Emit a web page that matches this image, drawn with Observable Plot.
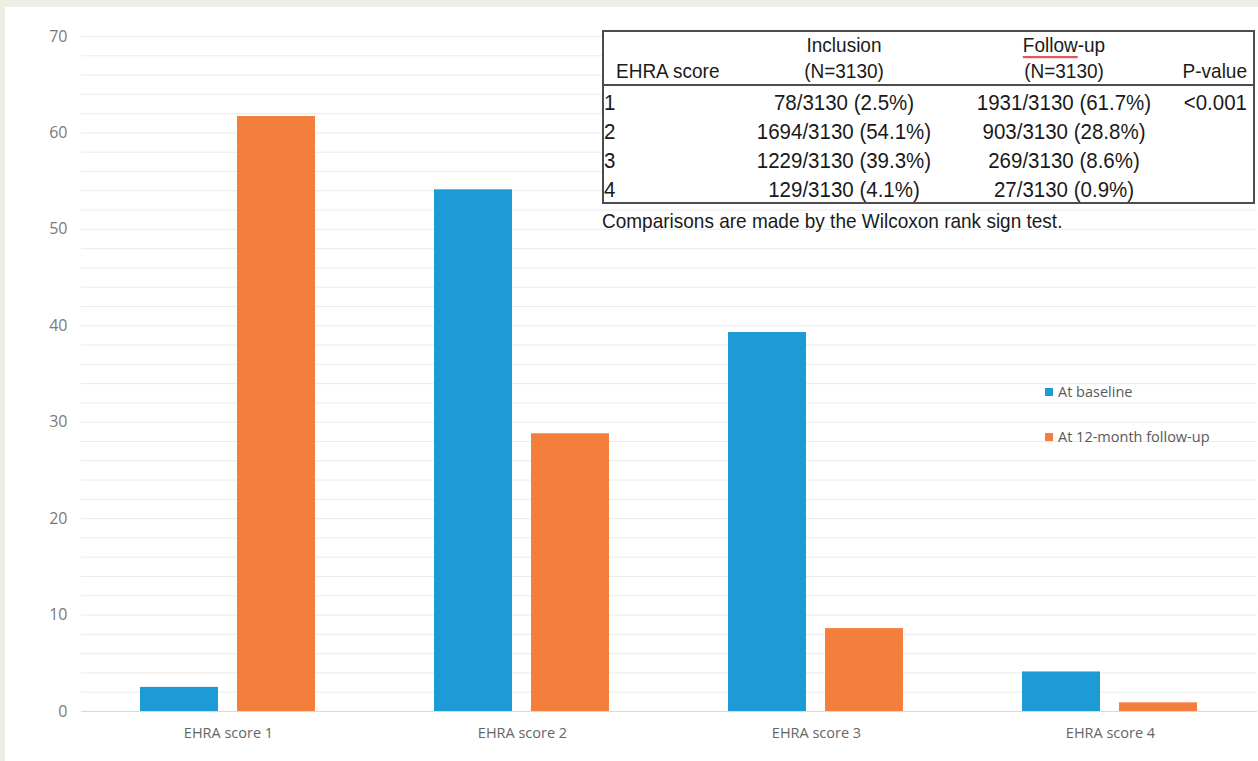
<!DOCTYPE html>
<html>
<head>
<meta charset="utf-8">
<script src="https://cdn.jsdelivr.net/npm/d3@7"></script>
<script src="https://cdn.jsdelivr.net/npm/@observablehq/plot@0.6"></script>
<style>
  html, body { margin: 0; padding: 0; background: #efeee4; }
  #page { position: relative; width: 1258px; height: 761px; overflow: hidden; background: #efeee4; }
  #panel { position: absolute; left: 5px; top: 7px; right: 0; bottom: 0; background: #fff; }
  #chart { position: absolute; left: 0; top: 0; }
  #chart g[aria-label="y-axis tick label"] { font-size: 16px; }
  #legend { position: absolute; left: 1045px; top: 384px; font-family: "Open Sans", sans-serif; font-size: 14.5px; color: #595959; }
  #legend .item { position: relative; height: 15px; line-height: 15px; padding-left: 13px; margin-bottom: 30px; white-space: nowrap; }
  #legend .swatch { position: absolute; left: 0; top: 4px; width: 8px; height: 8px; }
  #summary { position: absolute; left: 602px; top: 30px; width: 653px; border-collapse: collapse; table-layout: fixed;
             background: #fff; font-family: "Liberation Sans", Arial, sans-serif; font-size: 19px; color: #1a1a1a;
             border: 2px solid #4d4d4d; box-sizing: border-box; }
  #summary td, #summary th { padding: 0; font-weight: normal; white-space: nowrap; overflow: visible; }
  #summary thead th { height: 51px; line-height: 26px; vertical-align: bottom; border-bottom: 2px solid #4d4d4d; }
  #summary tbody td { height: 29px; line-height: 29px; vertical-align: middle; font-size: 20.5px; }
  #summary tbody td > span { position: relative; top: 2px; }
  #summary .tall { display: inline-block; transform: scaleY(1.1); }
  #summary tbody .tall { transform: scaleY(1.04); }
  #summary .c1h { text-align: left; padding-left: 12px; }
  #summary .c1 { text-align: left; padding-left: 0; }
  #summary .c2, #summary .c3 { text-align: center; }
  #summary .c4 { text-align: right; padding-right: 6px; }
  .spell { text-decoration: underline; text-decoration-color: #e0585c; text-decoration-thickness: 1.5px; text-underline-offset: 4px; }
  #note { position: absolute; left: 602px; top: 208px; font-family: "Liberation Sans", Arial, sans-serif; font-size: 19px;
          line-height: 26px; color: #1a1a1a; white-space: nowrap; }
  #note span { display: inline-block; transform: scaleY(1.1); }
</style>
</head>
<body>
<div id="page">
  <div id="panel"></div>
  <div id="chart"></div>
  <div id="legend"></div>
  <table id="summary">
    <colgroup><col style="width:136px"><col style="width:210px"><col style="width:230px"><col></colgroup>
    <thead></thead>
    <tbody></tbody>
  </table>
  <div id="note"></div>
</div>
<script>
// EHRA symptom score distribution, inclusion vs 12-month follow-up
const scores = ["1", "2", "3", "4"];
const categories = ["EHRA score 1", "EHRA score 2", "EHRA score 3", "EHRA score 4"];
const seriesNames = ["At baseline", "At 12-month follow-up"];
const seriesColors = ["#1d9bd7", "#f47f3d"];
const totalN = 3130;
const baselineCounts = [78, 1694, 1229, 129];
const followupCounts = [1931, 903, 269, 27];
const baselinePct = [2.5, 54.1, 39.3, 4.1];
const followupPct = [61.7, 28.8, 8.6, 0.9];
const pValues = ["<0.001", "", "", ""];
const yTicks = [0, 10, 20, 30, 40, 50, 60, 70];
const noteText = "Comparisons are made by the Wilcoxon rank sign test.";

// long-format rows for the grouped bars
const rows = categories.flatMap((c, i) => [
  {category: c, series: seriesNames[0], value: baselinePct[i]},
  {category: c, series: seriesNames[1], value: followupPct[i]}
]);

const minorGrid = d3.range(0, 71, 2);

const chart = Plot.plot({
  width: 1258,
  height: 761,
  marginLeft: 80,
  marginRight: 0,
  marginTop: 36,
  marginBottom: 50,
  style: {background: "transparent", fontFamily: "'Open Sans', sans-serif", fontSize: "14px", color: "#6e6e6e"},
  fx: {domain: categories, padding: 0, label: null},
  x: {domain: seriesNames, paddingInner: 0.194, paddingOuter: 0.602, axis: null},
  y: {domain: [0, 70], axis: null},
  color: {domain: seriesNames, range: seriesColors},
  marks: [
    Plot.ruleY(minorGrid, {stroke: "#ebebeb", strokeWidth: 1}),
    Plot.ruleY([0], {stroke: "#d9d9d9", strokeWidth: 1}),
    Plot.barY(rows, {fx: "category", x: "series", y: "value", fill: "series"}),
    Plot.axisY({ticks: yTicks, tickSize: 0, tickPadding: 14, label: null, fill: "#7a7a7a", fontSize: 16}),
    Plot.axisFx({anchor: "bottom", tickSize: 0, tickPadding: 16, label: null, fill: "#666", fontSize: 14.5})
  ]
});
document.getElementById("chart").appendChild(chart);

// legend
const legend = d3.select("#legend");
seriesNames.forEach((name, i) => {
  const item = legend.append("div").attr("class", "item");
  item.append("span").attr("class", "swatch").style("background", seriesColors[i]);
  item.append("span").text(name);
});

// summary table
const thead = d3.select("#summary thead").append("tr");
thead.append("th").attr("class", "c1h").html('<span class="tall">EHRA score</span>');
thead.append("th").attr("class", "c2").html(`<span class="tall">Inclusion</span><br><span class="tall">(N=${totalN})</span>`);
thead.append("th").attr("class", "c3").html(`<span class="tall"><span class="spell">Follow</span>-up</span><br><span class="tall">(N=${totalN})</span>`);
thead.append("th").attr("class", "c4").html('<span class="tall">P-value</span>');

const tbody = d3.select("#summary tbody");
scores.forEach((s, i) => {
  const tr = tbody.append("tr");
  tr.append("td").attr("class", "c1").html(`<span class="tall">${s}</span>`);
  tr.append("td").attr("class", "c2").html(`<span class="tall">${baselineCounts[i]}/${totalN} (${baselinePct[i].toFixed(1)}%)</span>`);
  tr.append("td").attr("class", "c3").html(`<span class="tall">${followupCounts[i]}/${totalN} (${followupPct[i].toFixed(1)}%)</span>`);
  tr.append("td").attr("class", "c4").html(`<span class="tall">${pValues[i]}</span>`);
});

d3.select("#note").append("span").text(noteText);
</script>
</body>
</html>
